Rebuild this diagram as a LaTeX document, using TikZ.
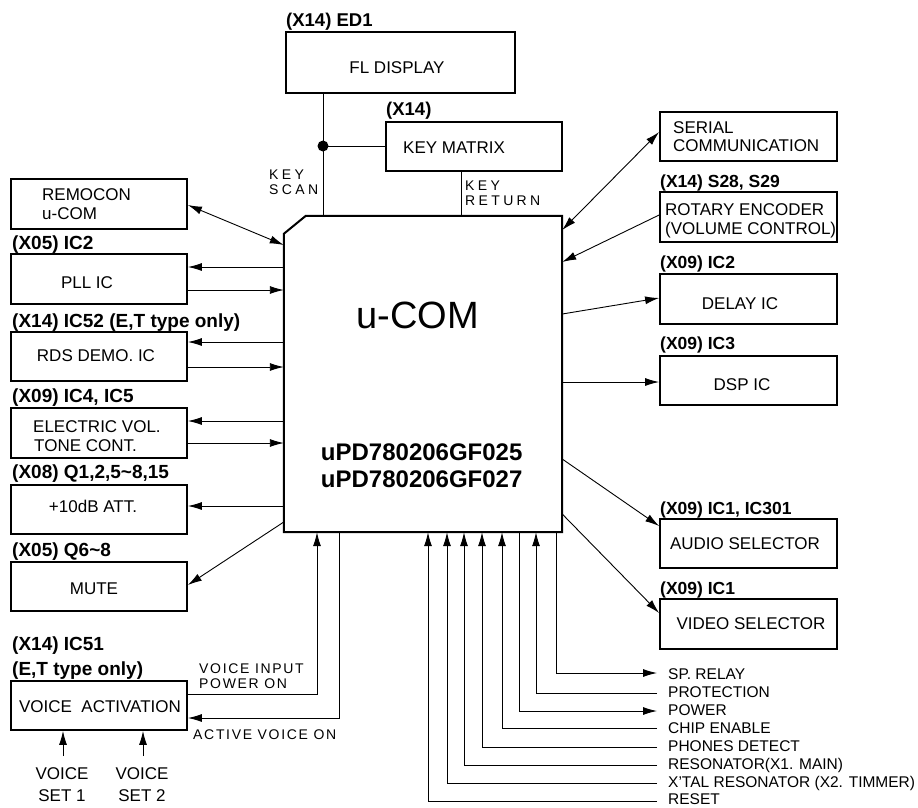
\documentclass[tikz,border=0pt]{standalone}
\usepackage{fontspec}
\setmainfont{Liberation Sans}
\usetikzlibrary{arrows.meta}
\begin{document}
\begin{tikzpicture}[x=1pt,y=-1pt,
  blk/.style={draw, line width=1.8pt, inner sep=0, minimum width=176pt, minimum height=50pt},
  ln/.style={line width=0.9pt},
  arr/.style={ln, -{Latex[length=14pt,width=8pt]}},
  dar/.style={ln, {Latex[length=14pt,width=8pt]}-{Latex[length=14pt,width=8pt]}},
  tc/.style={inner sep=0, anchor=base, font=\fontsize{17}{18}\selectfont},
  tl/.style={tc, anchor=base west},
  bl/.style={inner sep=0, anchor=base west, font=\fontsize{19}{20}\selectfont\bfseries},
  bm/.style={bl, font=\fontsize{18.5}{20}\selectfont\bfseries},
  br/.style={bl, font=\fontsize{17.5}{20}\selectfont\bfseries},
  sp/.style={inner sep=0, anchor=base west, font=\fontsize{14}{14}\selectfont\addfontfeature{LetterSpace=24}},
  sv/.style={inner sep=0, anchor=base west, font=\fontsize{14}{14}\selectfont\addfontfeature{LetterSpace=12}},
  bt/.style={inner sep=0, anchor=base west, font=\fontsize{15.5}{17}\selectfont}
]
\useasboundingbox (0,0) rectangle (918,807);

% ---------- chip ----------
\node[inner sep=0, minimum width=278pt, minimum height=316pt] (chip) at (423,374) {};
\draw[line width=2pt] ([xshift=22pt]chip.north west) -- (chip.north east) -- (chip.south east)
  -- (chip.south west) -- ([yshift=-18pt]chip.north west) -- cycle;
\node[inner sep=0, anchor=base, font=\fontsize{38}{40}\selectfont] (tucom) at (417.5,328) {u-COM};
\node[inner sep=0, anchor=base, font=\fontsize{24}{26}\selectfont\bfseries] (tpd1) at (421.7,460) {uPD780206GF025};
\node[inner sep=0, anchor=base, font=\fontsize{24}{26}\selectfont\bfseries] (tpd2) at (421.7,487) {uPD780206GF027};

% ---------- top ----------
\node[blk, minimum width=229pt, minimum height=61pt] (fl) at (400.5,62.5) {};
\node[bm] (lfl) at (286,26) {(X14) ED1};
\node[tc] (tfl) at (397,73) {FL DISPLAY};

\node[blk, minimum height=49pt] (km) at (474,146.5) {};
\node[bm] (lkm) at (386,115) {(X14)};
\node[tl] (tkm) at (403,153) {KEY MATRIX};

\coordinate (dot) at (323,146);
\draw[ln] (fl.south -| dot) -- (chip.north -| dot);
\fill (dot) circle (5.5pt);
\draw[ln] (dot) -- (km.west |- dot);
\draw[ln] (km.south -| 461,0) -- (chip.north -| 461,0);
\node[sp] (tks1) at (269,179) {KEY};
\node[sp] (tks2) at (269,194) {SCAN};
\node[sp] (tkr1) at (465,190) {KEY};
\node[sp] (tkr2) at (465,205) {RETURN};

% ---------- left ----------
\node[blk] (rem) at (99,204) {};
\node[tl] (trem1) at (42,200) {REMOCON};
\node[tl] (trem2) at (42,219) {u-COM};

\node[blk] (pll) at (99,279) {};
\node[bl] (lpll) at (12,249) {(X05) IC2};
\node[tc] (tpll) at (87,288) {PLL IC};

\node[blk, minimum height=49pt] (rds) at (99,356.5) {};
\node[bl] (lrds) at (12,327) {(X14) IC52 (E,T type only)};
\node[tc] (trds) at (96,361) {RDS DEMO. IC};

\node[blk] (ev) at (99,433) {};
\node[bl] (lev) at (12,402) {(X09) IC4, IC5};
\node[tl] (tev1) at (33,432) {ELECTRIC VOL.};
\node[tl] (tev2) at (34,451) {TONE CONT.};

\node[blk, minimum height=49pt] (att) at (99,509.5) {};
\node[bl] (latt) at (12,478) {(X08) Q1,2,5\char`~8,15};
\node[tc] (tatt) at (93,512) {+10dB ATT.};

\node[blk, minimum height=49pt] (mute) at (99,586.5) {};
\node[bl] (lmute) at (12,556) {(X05) Q6\char`~8};
\node[tc] (tmute) at (94,594) {MUTE};

\node[blk, minimum height=49pt] (va) at (99,705.5) {};
\node[bl] (lva1) at (12,650) {(X14) IC51};
\node[bl] (lva2) at (12,675) {(E,T type only)};
\node[tc] (tva) at (100,712) {VOICE\ \ ACTIVATION};

\draw[dar] (rem.east |- 0,205) -- (chip.west |- 0,245);
\draw[arr] (chip.west |- 0,267) -- (pll.east |- 0,267);
\draw[arr] (pll.east |- 0,290) -- (chip.west |- 0,290);
\draw[arr] (chip.west |- 0,342) -- (rds.east |- 0,342);
\draw[arr] (rds.east |- 0,367) -- (chip.west |- 0,367);
\draw[arr] (chip.west |- 0,421) -- (ev.east |- 0,421);
\draw[arr] (ev.east |- 0,443) -- (chip.west |- 0,443);
\draw[arr] (chip.west |- 0,506) -- (att.east |- 0,506);
\draw[arr] (chip.west |- 0,522) -- (mute.east |- 0,585);

% voice activation links
\draw[arr] (va.east |- 0,694) -| (chip.south -| 317,0);
\draw[arr] (chip.south -| 339,0) |- (va.east |- 0,718);
\node[sv] (tvi1) at (199,673) {VOICE INPUT};
\node[sv] (tvi2) at (199,688) {POWER ON};
\node[sv] (tav) at (193,739) {ACTIVE VOICE ON};

\coordinate (vs1) at (63,756);
\coordinate (vs2) at (143,756);
\draw[arr] (vs1) -- (va.south -| vs1);
\draw[arr] (vs2) -- (va.south -| vs2);
\node[tc] (tvs1a) at (62,779) {VOICE};
\node[tc] (tvs1b) at (62,801) {SET 1};
\node[tc] (tvs2a) at (142,779) {VOICE};
\node[tc] (tvs2b) at (142,801) {SET 2};

% ---------- right ----------
\node[blk, minimum width=177pt, minimum height=49pt] (ser) at (748.5,136.5) {};
\node[tl] (tser1) at (673,133) {SERIAL};
\node[tl] (tser2) at (673,151) {COMMUNICATION};

\node[blk, minimum width=177pt] (rot) at (748.5,217) {};
\node[br] (lrot) at (660,187) {(X14) S28, S29};
\node[tl] (trot1) at (665,215) {ROTARY ENCODER};
\node[tl] (trot2) at (665,234) {(VOLUME CONTROL)};

\node[blk, minimum width=177pt] (del) at (748.5,299) {};
\node[br] (ldel) at (660,268) {(X09) IC2};
\node[tc] (tdel) at (740,309) {DELAY IC};

\node[blk, minimum width=177pt, minimum height=49pt] (dsp) at (748.5,380.5) {};
\node[br] (ldsp) at (660,349) {(X09) IC3};
\node[tc] (tdsp) at (742,390) {DSP IC};

\node[blk, minimum width=177pt, minimum height=49pt] (aud) at (748.5,543.5) {};
\node[br] (laud) at (660,514) {(X09) IC1, IC301};
\node[tc] (taud) at (745,549) {AUDIO SELECTOR};

\node[blk, minimum width=177pt] (vid) at (748.5,624) {};
\node[br] (lvid) at (660,594) {(X09) IC1};
\node[tc] (tvid) at (751,629) {VIDEO SELECTOR};

\draw[dar] (chip.east |- 0,230) -- (ser.west |- 0,132);
\draw[arr] (rot.west |- 0,215) -- (chip.east |- 0,262);
\draw[arr] (chip.east |- 0,314) -- (del.west |- 0,298);
\draw[arr] (chip.east |- 0,382) -- (dsp.west |- 0,382);
\draw[arr] (chip.east |- 0,459) -- (aud.west |- 0,526);
\draw[arr] (chip.east |- 0,514) -- (vid.west |- 0,613);

% ---------- bottom bus ----------
\coordinate (esp) at (657,673);
\coordinate (epr) at (657,693);
\coordinate (epo) at (657,711);
\coordinate (ece) at (657,728);
\coordinate (eph) at (657,747);
\coordinate (ers) at (657,765);
\coordinate (ext) at (657,783);
\coordinate (ere) at (657,801);
\draw[arr] (chip.south -| 556,0) |- (esp);
\draw[arr] (epr) -| (chip.south -| 536,0);
\draw[arr] (chip.south -| 519,0) |- (epo);
\draw[arr] (ece) -| (chip.south -| 502,0);
\draw[arr] (eph) -| (chip.south -| 482,0);
\draw[arr] (ers) -| (chip.south -| 464,0);
\draw[arr] (ext) -| (chip.south -| 447,0);
\draw[arr] (ere) -| (chip.south -| 428,0);
\node[bt] (tsp) at (668,679) {SP. RELAY};
\node[bt] (tpr) at (668,697) {PROTECTION};
\node[bt] (tpo) at (668,715) {POWER};
\node[bt] (tce) at (668,733) {CHIP ENABLE};
\node[bt] (tph) at (668,751) {PHONES DETECT};
\node[bt] (trs) at (668,769) {RESONATOR(X1. MAIN)};
\node[bt] (txt) at (668,787) {X'TAL RESONATOR (X2. TIMMER)};
\node[bt] (tre) at (668,804) {RESET};
\end{tikzpicture}
\end{document}
